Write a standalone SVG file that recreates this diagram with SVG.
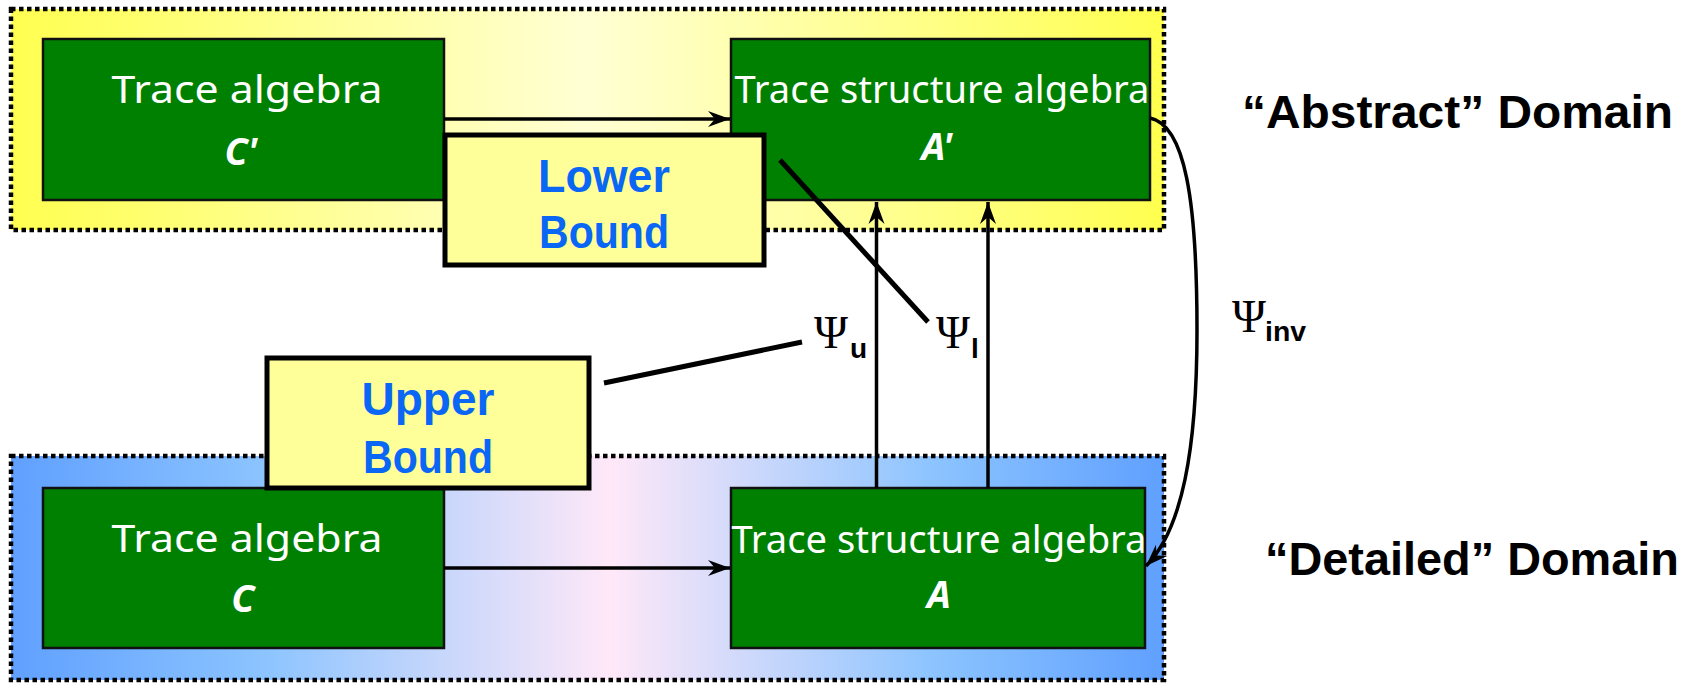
<svg xmlns="http://www.w3.org/2000/svg" width="1700" height="684" viewBox="0 0 1700 684">
<defs>
<linearGradient id="gy" x1="0" y1="0" x2="1" y2="0">
<stop offset="0" stop-color="#ffff50"/>
<stop offset="0.5" stop-color="#ffffd4"/>
<stop offset="1" stop-color="#ffff50"/>
</linearGradient>
<linearGradient id="gb" x1="0" y1="0" x2="1" y2="0">
<stop offset="0" stop-color="#60a0ff"/>
<stop offset="0.22" stop-color="#8cc4ff"/>
<stop offset="0.52" stop-color="#ffe8f8"/>
<stop offset="0.8" stop-color="#8cc4ff"/>
<stop offset="1" stop-color="#60a0ff"/>
</linearGradient>
<marker id="ah" viewBox="-24 -10 26 20" refX="0" refY="0" markerWidth="26" markerHeight="20" markerUnits="userSpaceOnUse" orient="auto">
<path d="M0,0 L-22,-8 L-15,0 L-22,8 Z" fill="#000"/>
</marker>
<style>
.dom{stroke:#000;stroke-width:4.5;stroke-dasharray:4.5 3.5}
.g{fill:#008000;stroke:#111;stroke-width:2.5}
.wt{fill:#fff;font-family:"Comic Sans MS","Noto Sans","Liberation Sans",sans-serif;font-size:38px;text-anchor:middle}
.wb{fill:#fff;font-family:"Comic Sans MS","Noto Sans","Liberation Sans",sans-serif;font-size:38px;font-weight:bold;font-style:italic;text-anchor:middle}
.bx{fill:#ffff99;stroke:#000;stroke-width:5}
.bt{fill:#0a66f5;font-family:"Liberation Sans",sans-serif;font-size:46px;font-weight:bold;text-anchor:middle}
.ln{stroke:#000;stroke-width:3.5;fill:none}
.ld{stroke:#000;stroke-width:5;fill:none}
.psi{font-family:"Liberation Serif",serif;font-size:46px;fill:#000}
.sub{font-family:"Liberation Sans",sans-serif;font-size:28px;font-weight:bold;fill:#000}
.dl{font-family:"Comic Sans MS","Liberation Sans",sans-serif;font-size:46px;font-weight:bold;fill:#000}
</style>
</defs>
<g id="abstract-domain">
<rect x="11" y="9" width="1153" height="221" fill="url(#gy)" class="dom"/>
</g>
<g id="detailed-domain">
<rect x="11" y="456" width="1153" height="224" fill="url(#gb)" class="dom"/>
</g>
<g id="node-Cprime">
<rect x="43" y="39" width="401" height="161" class="g"/>
<text x="247" y="103" class="wt" textLength="271" lengthAdjust="spacingAndGlyphs">Trace algebra</text>
<text x="241" y="165" class="wb">C'</text>
</g>
<g id="node-Aprime">
<rect x="731" y="39" width="419" height="161" class="g"/>
<text x="942" y="103" class="wt" textLength="415" lengthAdjust="spacingAndGlyphs">Trace structure algebra</text>
<text x="937" y="160" class="wb">A'</text>
</g>
<g id="node-C">
<rect x="43" y="488" width="401" height="160" class="g"/>
<text x="247" y="552" class="wt" textLength="271" lengthAdjust="spacingAndGlyphs">Trace algebra</text>
<text x="243" y="612" class="wb">C</text>
</g>
<g id="node-A">
<rect x="731" y="488" width="414" height="160" class="g"/>
<text x="939" y="553" class="wt" textLength="415" lengthAdjust="spacingAndGlyphs">Trace structure algebra</text>
<text x="939" y="608" class="wb">A</text>
</g>
<g id="connectors">
<line x1="444" y1="119" x2="730" y2="119" class="ln" marker-end="url(#ah)"/>
<line x1="444" y1="568" x2="730" y2="568" class="ln" marker-end="url(#ah)"/>
<line x1="876.5" y1="488" x2="876.5" y2="202" class="ln" marker-end="url(#ah)"/>
<line x1="988" y1="488" x2="988" y2="202" class="ln" marker-end="url(#ah)"/>
<path d="M1150,118 C1185,125 1197,200 1197,330 C1197,450 1182,530 1146,566" class="ln" marker-end="url(#ah)"/>
<line x1="780" y1="160" x2="928" y2="322" class="ld"/>
<line x1="604" y1="383" x2="802" y2="342" class="ld"/>
</g>
<g id="node-lower-bound">
<rect x="445" y="135" width="319" height="130" class="bx"/>
<text x="604" y="192" class="bt" textLength="132" lengthAdjust="spacingAndGlyphs">Lower</text>
<text x="604" y="248" class="bt" textLength="130" lengthAdjust="spacingAndGlyphs">Bound</text>
</g>
<g id="node-upper-bound">
<rect x="267" y="358" width="322" height="130" class="bx"/>
<text x="428" y="415" class="bt" textLength="133" lengthAdjust="spacingAndGlyphs">Upper</text>
<text x="428" y="473" class="bt" textLength="130" lengthAdjust="spacingAndGlyphs">Bound</text>
</g>
<g id="labels">
<text x="814" y="348" class="psi">Ψ</text><text x="850" y="358" class="sub">u</text>
<text x="936" y="348" class="psi">Ψ</text><text x="971" y="358" class="sub">l</text>
<text x="1232" y="332" class="psi">Ψ</text><text x="1265" y="341" class="sub" textLength="41" lengthAdjust="spacingAndGlyphs">inv</text>
<text x="1242" y="128" class="dl" textLength="431" lengthAdjust="spacingAndGlyphs">“Abstract” Domain</text>
<text x="1265" y="575" class="dl" textLength="414" lengthAdjust="spacingAndGlyphs">“Detailed” Domain</text>
</g>
</svg>
